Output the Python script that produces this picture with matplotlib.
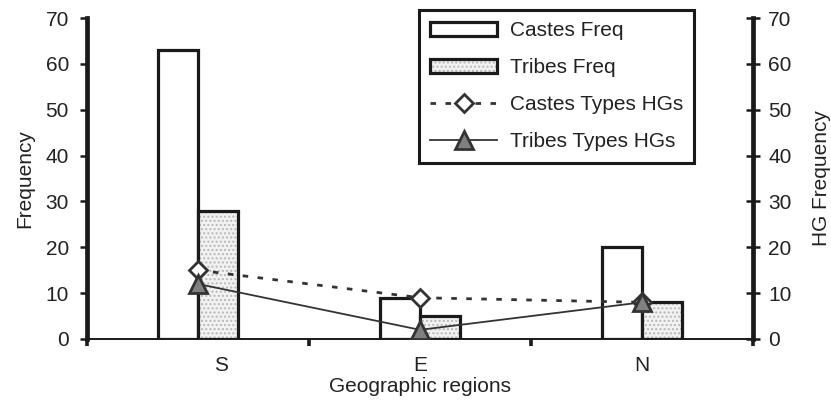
import matplotlib
matplotlib.use("Agg")
import matplotlib.pyplot as plt
import numpy as np
from matplotlib.legend_handler import HandlerTuple
from matplotlib.transforms import ScaledTranslation

plt.rcParams['font.family'] = ['Liberation Sans', 'DejaVu Sans']

regions = ["S", "E", "N"]
castes_freq = [63, 9, 20]
tribes_freq = [28, 5, 8]
castes_hg = [15, 9, 8]
tribes_hg = [12, 2, 8]
yticks = [0, 10, 20, 30, 40, 50, 60, 70]

fig = plt.figure(figsize=(8.31, 4.00), dpi=100)
ax = fig.add_axes([87/831, 1-339/400, 666/831, 321/400])
ax2 = ax.twinx()

x = np.arange(len(regions))
w = 0.18
dark = '#1a1a1a'
txt = '#222222'
fs = 15

b1 = ax.bar(x - w/2, castes_freq, w, facecolor='white', edgecolor=dark, linewidth=2.3, zorder=2)
bh = ax.bar(x + w/2, tribes_freq, w, facecolor='#f2f2f2', edgecolor='#b8b8b8', linewidth=0,
            hatch='....', zorder=2)
be = ax.bar(x + w/2, tribes_freq, w, fill=False, edgecolor=dark, linewidth=2.3, zorder=3)

l1, = ax2.plot(x, castes_hg, linestyle=(0, (2.0, 3.4)), color='#333333', linewidth=2.0,
               marker='D', markersize=9, markerfacecolor='white', markeredgecolor='#333333',
               markeredgewidth=2.0, zorder=4)
l2, = ax2.plot(x, tribes_hg, linestyle='-', color='#333333', linewidth=1.3,
               marker='^', markersize=13.5, markerfacecolor='#808080', markeredgecolor='#333333',
               markeredgewidth=2.0, zorder=5)

for a in (ax, ax2):
    a.set_xlim(-0.5, 2.5)
    a.set_ylim(0, 70)
    a.set_yticks(yticks)
    a.spines['top'].set_visible(False)

ax.spines['left'].set_linewidth(3.4)
ax.spines['left'].set_color(dark)
ax.spines['right'].set_visible(False)
ax.spines['bottom'].set_linewidth(1.4)
ax.spines['bottom'].set_color(dark)
ax2.spines['left'].set_visible(False)
ax2.spines['bottom'].set_visible(False)
ax2.spines['right'].set_linewidth(3.4)
ax2.spines['right'].set_color(dark)

ax.tick_params(axis='y', direction='out', length=5, width=1.8, color=dark, labelsize=fs,
               pad=8, labelcolor=txt)
ax2.tick_params(axis='y', direction='inout', length=10, width=1.8, color=dark, labelsize=fs,
                pad=6, labelcolor=txt)

ax.set_xticks([-0.5, 0.5, 1.5, 2.5])
ax.set_xticklabels([])
ax.tick_params(axis='x', which='major', direction='out', length=5, width=2.6, color=dark)
ax.set_xticks(x, regions, minor=True)
ax.tick_params(axis='x', which='minor', length=0, pad=12, labelsize=fs, labelcolor=txt)
lbl0 = ax.get_xticklabels(minor=True)[0]
lbl0.set_transform(lbl0.get_transform() + ScaledTranslation(0.23, 0, fig.dpi_scale_trans))

ax.set_xlabel("Geographic regions", fontsize=fs, color=txt, labelpad=2)
ax.set_ylabel("Frequency", fontsize=fs, color=txt, labelpad=8)
ax2.set_ylabel("HG Frequency", fontsize=fs, color=txt, labelpad=15)

leg = ax2.legend([b1, (bh, be), l1, l2],
                 ["Castes Freq", "Tribes Freq", "Castes Types HGs", "Tribes Types HGs"],
                 handler_map={tuple: HandlerTuple(ndivide=1)},
                 loc='upper left', bbox_to_anchor=(419/831, 1-10/400),
                 bbox_transform=fig.transFigure, borderaxespad=0,
                 fontsize=fs, frameon=True, fancybox=False, framealpha=1,
                 edgecolor=dark, handlelength=3.2, handletextpad=0.6,
                 labelspacing=0.86, borderpad=0.55, numpoints=1)
leg.get_frame().set_linewidth(2.2)
for t in leg.get_texts():
    t.set_color(txt)
leg.set_zorder(10)

fig.savefig("out.png", dpi=100)
